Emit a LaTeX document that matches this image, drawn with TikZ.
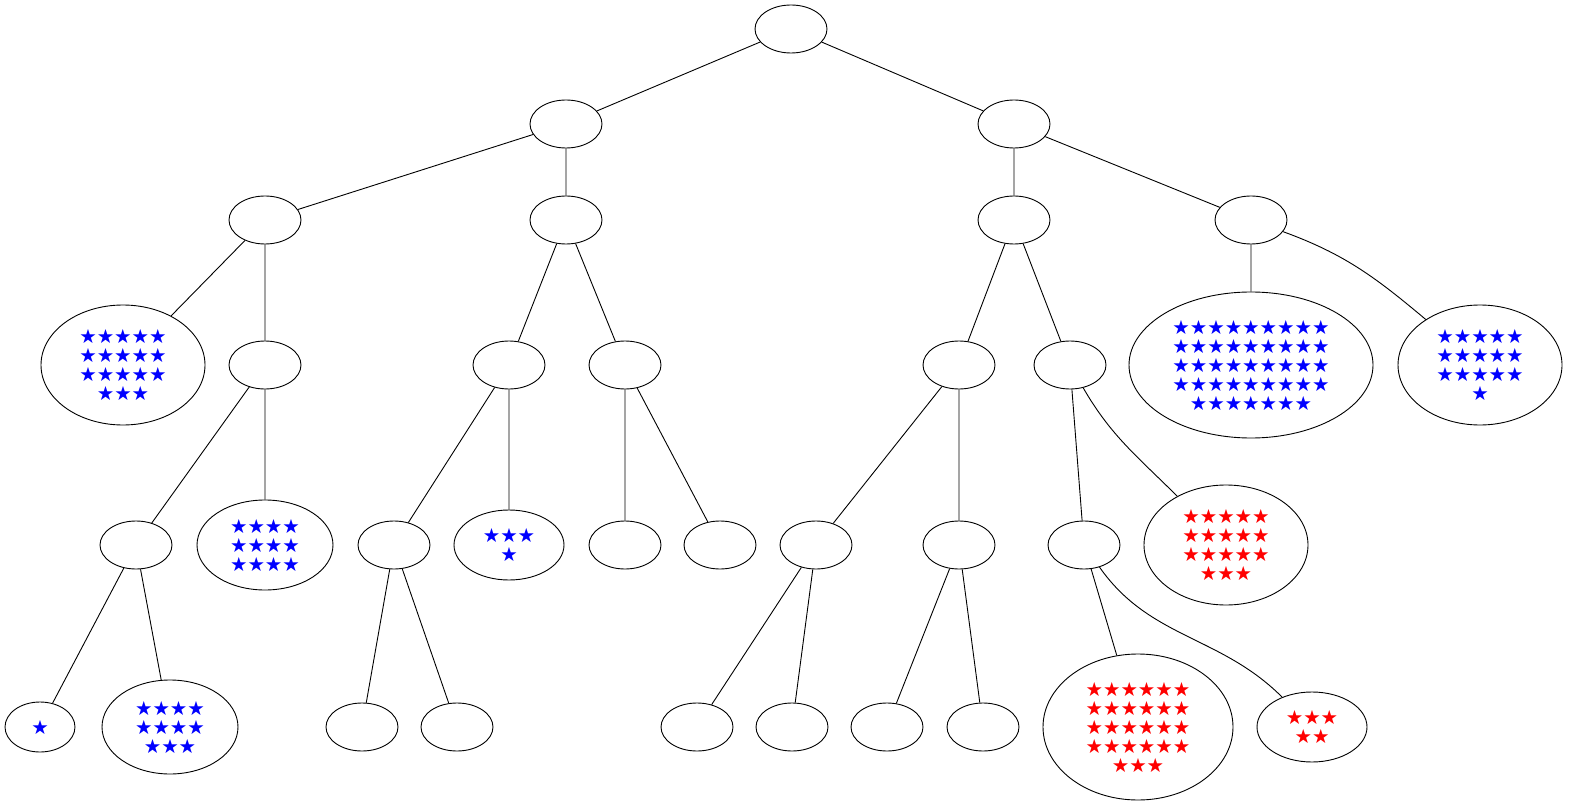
\documentclass[tikz,border=0pt]{standalone}
\usepackage{fontspec}
\newfontfamily\starfont{DejaVu Sans}
\usetikzlibrary{shapes.geometric}
\begin{document}
\begin{tikzpicture}[x=1pt,y=-1pt,
 e/.style={ellipse,draw,line width=0.9pt,inner sep=0pt,minimum width=72pt,minimum height=48pt},
 s/.style={e,align=center,font=\starfont\fontsize{19.5}{19}\selectfont,text=blue},
 r/.style={s,text=red},
 every path/.style={line width=0.9pt}]
\useasboundingbox (0,0) rectangle (1574,810);
\node[e] (n0) at (791,29) {};
\node[e] (n1) at (566,124) {};
\node[e] (n2) at (1014,124) {};
\node[e] (n3) at (265,220) {};
\node[e] (n4) at (566,220) {};
\node[e] (n5) at (1014,220) {};
\node[e] (n6) at (1251,220) {};
\node[s,minimum width=164pt,minimum height=120pt] (a) at (123,365) {★★★★★\\★★★★★\\★★★★★\\★★★};
\node[e] (n7) at (265,365) {};
\node[e] (n8) at (509,365) {};
\node[e] (n9) at (625,365) {};
\node[e] (n10) at (959,365) {};
\node[e] (n11) at (1070,365) {};
\node[s,minimum width=244pt,minimum height=146pt] (b) at (1251,365) {★★★★★★★★★\\★★★★★★★★★\\★★★★★★★★★\\★★★★★★★★★\\★★★★★★★};
\node[s,minimum width=164pt,minimum height=120pt] (c) at (1480,365) {★★★★★\\★★★★★\\★★★★★\\★};
\node[e] (n12) at (136,545) {};
\node[s,minimum width=136pt,minimum height=90pt] (d) at (265,545) {★★★★\\★★★★\\★★★★};
\node[e] (n13) at (394,545) {};
\node[s,minimum width=110pt,minimum height=70pt] (ee) at (509,545) {★★★\\★};
\node[e] (n14) at (625,545) {};
\node[e] (n15) at (720,545) {};
\node[e] (n16) at (816,545) {};
\node[e] (n17) at (959,545) {};
\node[e] (n18) at (1084,545) {};
\node[r,minimum width=164pt,minimum height=120pt] (f) at (1226,545) {★★★★★\\★★★★★\\★★★★★\\★★★};
\node[s,minimum width=70pt,minimum height=50pt] (g) at (40,727) {★};
\node[s,minimum width=136pt,minimum height=94pt] (h) at (170,727) {★★★★\\★★★★\\★★★};
\node[e] (n19) at (362,727) {};
\node[e] (n20) at (457,727) {};
\node[e] (n21) at (697,727) {};
\node[e] (n22) at (792,727) {};
\node[e] (n23) at (887,727) {};
\node[e] (n24) at (983,727) {};
\node[r,minimum width=190pt,minimum height=146pt] (i) at (1138,727) {★★★★★★\\★★★★★★\\★★★★★★\\★★★★★★\\★★★};
\node[r,minimum width=110pt,minimum height=70pt] (j) at (1312,727) {★★★\\★★};
\draw (n0)--(n1) (n0)--(n2) (n1)--(n3) (n1)--(n4) (n2)--(n5) (n2)--(n6)
 (n3)--(a) (n3)--(n7) (n4)--(n8) (n4)--(n9) (n5)--(n10) (n5)--(n11) (n6)--(b)
 (n7)--(n12) (n7)--(d) (n8)--(n13) (n8)--(ee) (n9)--(n14) (n9)--(n15)
 (n10)--(n16) (n10)--(n17) (n11)--(n18)
 (n12)--(g) (n12)--(h) (n13)--(n19) (n13)--(n20) (n16)--(n21) (n16)--(n22)
 (n17)--(n23) (n17)--(n24) (n18)--(i);
\draw (n6) to[out=-20,in=140] (c);
\draw (n11) to[out=-60,in=135] (f);
\draw (n18) to[out=-55,in=135] (j);
\end{tikzpicture}
\end{document}
